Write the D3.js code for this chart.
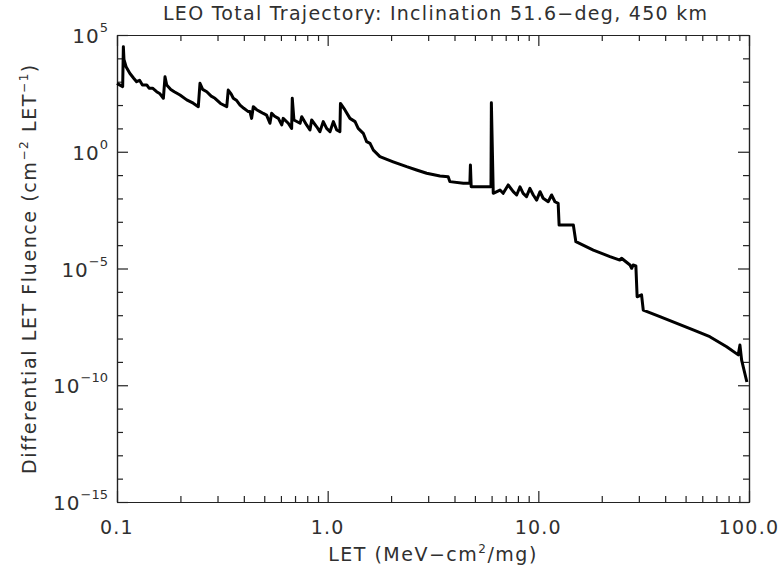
<!DOCTYPE html>
<html>
<head>
<meta charset="utf-8">
<script src="https://cdn.jsdelivr.net/npm/d3@7"></script>
<style>
  html, body { margin: 0; padding: 0; background: #fff; }
  svg text { font-family: "DejaVu Sans", sans-serif; fill: #303030; }
</style>
</head>
<body>
<svg id="chart" width="780" height="567"></svg>
<script>
// LET spectrum, total trajectory (MeV-cm^2/mg vs cm^-2 LET^-1)
const letValues = [
  0.100, 0.1064, 0.1072, 0.1079, 0.1104, 0.1150, 0.1200, 0.1239, 0.1280, 0.1320,
  0.1384, 0.1420, 0.1475, 0.1542, 0.1600, 0.1660, 0.1690, 0.1722, 0.1800, 0.1870,
  0.1991, 0.2143, 0.2300, 0.2432, 0.2477, 0.2550, 0.2667, 0.2800, 0.2917, 0.3100,
  0.3319, 0.3373, 0.3480, 0.3565, 0.3700, 0.3837, 0.4000, 0.4198, 0.4276, 0.4355,
  0.4436, 0.4600, 0.4775, 0.4950, 0.5129, 0.5321, 0.5420, 0.5600, 0.5834, 0.6053,
  0.6152, 0.6501, 0.6745, 0.6792, 0.6918, 0.7396, 0.7534, 0.7943, 0.8241, 0.8395,
  0.8872, 0.9183, 0.9528, 0.9886, 1.0257, 1.0641, 1.104, 1.143, 1.150, 1.208,
  1.276, 1.349, 1.396, 1.476, 1.531, 1.589, 1.648, 1.770, 2.046, 2.371,
  2.642, 2.951, 3.412, 3.733, 3.802, 4.406, 4.732, 4.760, 4.800, 4.909,
  5.689, 5.960, 5.985, 6.109, 6.577, 6.808, 7.194, 7.603, 7.889, 8.185,
  8.472, 8.790, 9.120, 9.462, 9.817, 10.19, 10.54, 11.14, 11.56, 11.99,
  12.42, 12.55, 14.66, 15.07, 18.24, 21.88, 24.38, 24.83, 27.23, 27.73,
  28.18, 29.04, 29.44, 30.90, 31.48, 37.76, 54.33, 65.16, 78.34, 88.92,
  90.57, 92.26, 97.72
];
const fluenceValues = [
  851, 617, 31600, 9000, 4370, 2290, 1410, 1000, 1150, 724,
  724, 525, 525, 372, 302, 195, 1620, 724, 468, 372,
  269, 166, 120, 85.1, 851, 468, 372, 240, 195, 117,
  85.1, 437, 302, 195, 155, 100, 72.4, 52.5, 52.5, 26.9,
  85.1, 63.1, 52.5, 43.7, 37.2, 16.6, 44.7, 33.1, 26.9, 14.1,
  26.9, 16.6, 10.0, 195, 22.9, 16.6, 31.6, 14.1, 8.51, 22.9,
  11.7, 7.24, 19.5, 10.0, 7.24, 19.5, 8.51, 7.24, 117, 61.7,
  26.9, 19.5, 10.0, 6.17, 2.69, 2.29, 1.17, 0.617, 0.372, 0.229,
  0.166, 0.120, 0.0912, 0.0851, 0.0525, 0.0447, 0.0447, 0.269, 0.0316, 0.0316,
  0.0316, 0.0316, 126, 0.0166, 0.0229, 0.0166, 0.0380, 0.0195, 0.0141, 0.0316,
  0.0166, 0.0120, 0.0269, 0.0141, 0.00851, 0.0195, 0.0102, 0.00724, 0.0141, 0.00724,
  0.00617, 7.24e-4, 7.24e-4, 1.41e-4, 6.17e-5, 3.24e-5, 2.29e-5, 2.75e-5, 1.41e-5, 1.02e-5,
  1.41e-5, 1.29e-5, 6.17e-7, 7.41e-7, 1.66e-7, 8.71e-8, 2.34e-8, 1.20e-8, 4.47e-9, 2.00e-9,
  5.25e-9, 1.20e-9, 1.38e-10
];

const xTickValues = [0.1, 1, 10, 100];
const xTickLabels = ["0.1", "1.0", "10.0", "100.0"];
const yTickValues = [1e5, 1e0, 1e-5, 1e-10, 1e-15];
const yTickExponents = ["5", "0", "\u22125", "\u221210", "\u221215"];

const titleText = "LEO Total Trajectory: Inclination 51.6\u2212deg, 450 km";

const svg = d3.select("#chart");
const plot = { left: 117, right: 749, top: 35, bottom: 502 };

const x = d3.scaleLog().domain([0.1, 100]).range([plot.left, plot.right]);
const y = d3.scaleLog().domain([1e-15, 1e5]).range([plot.bottom, plot.top]);

const ink = "#222";
const majorLen = 11, minorLen = 6;

// minor tick positions: every integer multiple inside each decade
const xMinor = [];
for (let d = 0.1; d < 100; d *= 10) for (let k = 2; k <= 9; k++) xMinor.push(+(d * k).toPrecision(3));
const yMinor = [];
for (let e = -14; e <= 4; e++) if (e % 5 !== 0) yMinor.push(Math.pow(10, e));

// axes on four sides, ticks pointing inward
function place(axis, tx, ty) {
  const g = svg.append("g").attr("transform", `translate(${tx},${ty})`).call(axis.tickSizeOuter(0));
  g.select(".domain").attr("stroke", ink).attr("stroke-width", 1.2);
  g.selectAll(".tick line").attr("stroke", ink).attr("stroke-width", 1.2);
  return g;
}
place(d3.axisBottom(x).tickValues(xTickValues).tickSize(-majorLen).tickFormat(""), 0, plot.bottom);
place(d3.axisBottom(x).tickValues(xMinor).tickSize(-minorLen).tickFormat(""), 0, plot.bottom);
place(d3.axisTop(x).tickValues(xTickValues).tickSize(-majorLen).tickFormat(""), 0, plot.top);
place(d3.axisTop(x).tickValues(xMinor).tickSize(-minorLen).tickFormat(""), 0, plot.top);
place(d3.axisLeft(y).tickValues(yTickValues).tickSize(-majorLen).tickFormat(""), plot.left, 0);
place(d3.axisLeft(y).tickValues(yMinor).tickSize(-minorLen).tickFormat(""), plot.left, 0);
place(d3.axisRight(y).tickValues(yTickValues).tickSize(-majorLen).tickFormat(""), plot.right, 0);
place(d3.axisRight(y).tickValues(yMinor).tickSize(-minorLen).tickFormat(""), plot.right, 0);

// x tick labels
svg.append("g").selectAll("text").data(xTickValues).join("text")
  .attr("x", d => x(d))
  .attr("y", plot.bottom + 32)
  .attr("text-anchor", "middle")
  .attr("font-size", 19)
  .attr("letter-spacing", 1.2)
  .text((d, i) => xTickLabels[i]);

// y tick labels: 10 with superscript exponent
const yl = svg.append("g").selectAll("text").data(yTickValues).join("text")
  .attr("x", plot.left - 9)
  .attr("y", d => y(d) + 8)
  .attr("text-anchor", "end")
  .attr("font-size", 20);
yl.append("tspan").attr("letter-spacing", 1).text("10");
yl.append("tspan").attr("dy", -11).attr("font-size", 13).text((d, i) => yTickExponents[i]);

// title
svg.append("text")
  .attr("x", 435)
  .attr("y", 20)
  .attr("text-anchor", "middle")
  .attr("font-size", 19)
  .attr("textLength", 544)
  .attr("lengthAdjust", "spacing")
  .text(titleText);

// x axis title
const xt = svg.append("text")
  .attr("x", 433)
  .attr("y", 561)
  .attr("text-anchor", "middle")
  .attr("font-size", 19)
  .attr("letter-spacing", 1.5);
xt.append("tspan").text("LET (MeV\u2212cm");
xt.append("tspan").attr("dy", -8).attr("font-size", 12).text("2");
xt.append("tspan").attr("dy", 8).text("/mg)");

// y axis title
const ytl = svg.append("text")
  .attr("transform", `translate(36,${(plot.top + plot.bottom) / 2}) rotate(-90)`)
  .attr("text-anchor", "middle")
  .attr("font-size", 19)
  .attr("letter-spacing", 1.6);
ytl.append("tspan").text("Differential LET Fluence (cm");
ytl.append("tspan").attr("dy", -8).attr("font-size", 12).text("\u22122");
ytl.append("tspan").attr("dy", 8).text(" LET");
ytl.append("tspan").attr("dy", -8).attr("font-size", 12).text("\u22121");
ytl.append("tspan").attr("dy", 8).text(")");

// spectrum curve
const pts = letValues.map((v, i) => [v, fluenceValues[i]]);
const line = d3.line().x(d => x(d[0])).y(d => y(d[1]));
svg.append("path")
  .datum(pts)
  .attr("d", line)
  .attr("fill", "none")
  .attr("stroke", "#000")
  .attr("stroke-width", 3)
  .attr("stroke-linejoin", "round");
</script>
</body>
</html>
